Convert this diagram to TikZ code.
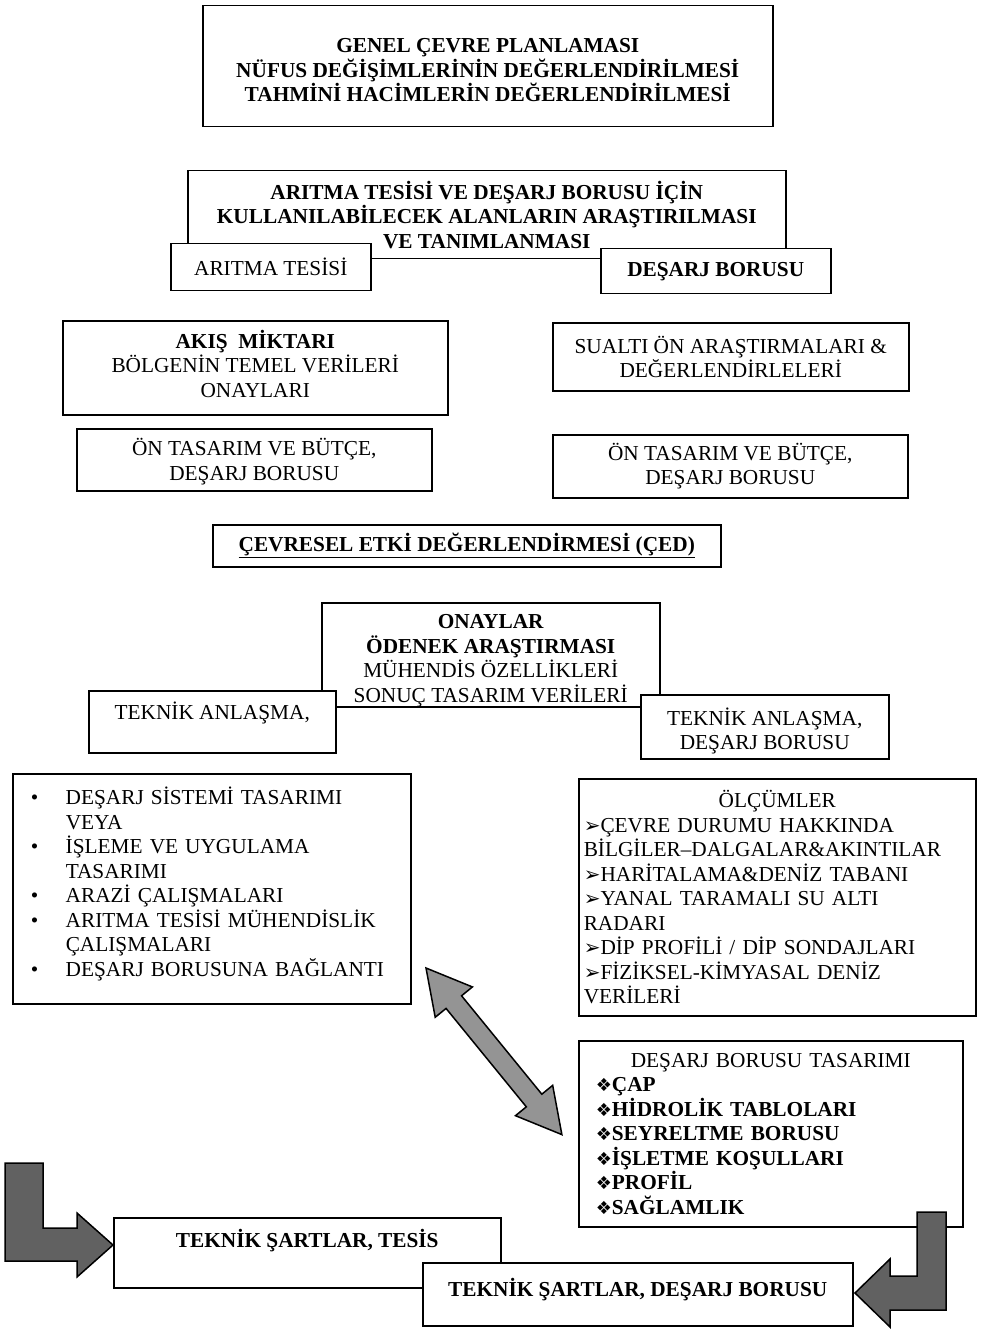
\documentclass[tikz,border=0pt]{standalone}
\usepackage{fontspec}
\setmainfont{Liberation Serif}
\newfontfamily\symf{DejaVu Sans}
\newcommand\fsz{\fontsize{21.3}{24.5}\selectfont}
\newcommand\arr{{\symf\fontsize{20}{20}\selectfont ➢}}
\newcommand\dia{{\symf\fontsize{18}{18}\selectfont ❖}}
\newcommand\bul{\makebox[35pt][l]{•}}
\begin{document}
\begin{tikzpicture}[x=1pt,y=-1pt,
  bx/.style={draw, line width=1.5pt, fill=white, inner sep=0pt, align=center, font=\fsz, anchor=north west},
  bbx/.style={bx, font=\fsz\bfseries},
  lab/.style={font=\fsz, align=center, inner sep=0pt},
  blab/.style={lab, font=\fsz\bfseries},
  blockarrow/.style={draw, line width=1.5pt, fill=black!62, line join=miter},
  dblarrow/.style={draw, line width=1.5pt, fill=black!42, line join=miter}]
\useasboundingbox (0,0) rectangle (994,1329);

\node[bx, minimum width=570, minimum height=121,
  label={[blab, yshift=-4pt]center:{GENEL ÇEVRE PLANLAMASI\\NÜFUS DEĞİŞİMLERİNİN DEĞERLENDİRİLMESİ\\TAHMİNİ HACİMLERİN DEĞERLENDİRİLMESİ}}] (plan) at (202,5) {};

\node[bbx, minimum width=598, minimum height=88] (alan) at (187,170)
  {ARITMA TESİSİ VE DEŞARJ BORUSU İÇİN\\KULLANILABİLECEK ALANLARIN ARAŞTIRILMASI\\VE TANIMLANMASI};
\node[bx, minimum width=200, minimum height=47] (tesis) at (170,243) {ARITMA TESİSİ};
\node[bbx, minimum width=230, minimum height=45] (boru) at (600,248) {DEŞARJ BORUSU};

\node[bx, minimum width=385, minimum height=94,
  label={[lab, yshift=4pt]center:{\textbf{AKIŞ~ MİKTARI}\\BÖLGENİN TEMEL VERİLERİ\\ONAYLARI}}] (akis) at (62,320) {};
\node[bx, minimum width=356, minimum height=68] (sualti) at (552,322)
  {SUALTI ÖN ARAŞTIRMALARI \&\\DEĞERLENDİRLELERİ};
\node[bx, minimum width=355, minimum height=62,
  label={[lab, yshift=-2pt]center:{ÖN TASARIM VE BÜTÇE,\\DEŞARJ BORUSU}}] (onl) at (76,428) {};
\node[bx, minimum width=355, minimum height=63] (onr) at (552,434)
  {ÖN TASARIM VE BÜTÇE,\\DEŞARJ BORUSU};

\node[bbx, minimum width=508, minimum height=42] (ced) at (212,524)
  {\underline{ÇEVRESEL ETKİ DEĞERLENDİRMESİ (ÇED)}};

\node[bx, minimum width=338, minimum height=104,
  label={[lab, yshift=-6pt]center:{\textbf{ONAYLAR}\\\textbf{ÖDENEK ARAŞTIRMASI}\\MÜHENDİS ÖZELLİKLERİ\\SONUÇ TASARIM VERİLERİ}}] (onay) at (321,602) {};
\node[bx, minimum width=247, text height=29, text depth=33] (tekl) at (88,690) {TEKNİK ANLAŞMA,};
\node[bx, minimum width=248, minimum height=64,
  label={[lab, yshift=-4pt]center:{TEKNİK ANLAŞMA,\\DEŞARJ BORUSU}}] (tekr) at (640,694) {};

\node[bx, minimum width=398, minimum height=230,
  label={[lab, yshift=5pt, text width=362, align=left]center:{\bul DEŞARJ SİSTEMİ TASARIMI\\
   \hspace*{35pt}VEYA\\
   \bul İŞLEME VE UYGULAMA\\
   \hspace*{35pt}TASARIMI\\
   \bul ARAZİ ÇALIŞMALARI\\
   \bul ARITMA TESİSİ MÜHENDİSLİK\\
   \hspace*{35pt}ÇALIŞMALARI\\
   \bul DEŞARJ BORUSUNA BAĞLANTI}}] (liste) at (12,773) {};

\node[bx, minimum height=237, text width=387, inner xsep=5, align=left] (olcum) at (578,778)
  {\makebox[387pt][c]{ÖLÇÜMLER}\\
   \arr ÇEVRE DURUMU HAKKINDA\\
   BİLGİLER–DALGALAR\&AKINTILAR\\
   \arr HARİTALAMA\&DENİZ TABANI\\
   \arr YANAL TARAMALI SU ALTI\\
   RADARI\\
   \arr DİP PROFİLİ / DİP SONDAJLARI\\
   \arr FİZİKSEL-KİMYASAL DENİZ\\
   VERİLERİ};

\node[bx, minimum height=186, text width=350, inner xsep=17, align=left] (tasarim) at (578,1040)
  {\makebox[350pt][c]{DEŞARJ BORUSU TASARIMI}\\
   \textbf{\dia ÇAP}\\
   \textbf{\dia HİDROLİK TABLOLARI}\\
   \textbf{\dia SEYRELTME BORUSU}\\
   \textbf{\dia İŞLETME KOŞULLARI}\\
   \textbf{\dia PROFİL}\\
   \textbf{\dia SAĞLAMLIK}};

\node[bbx, minimum width=387, text height=30, text depth=40] (sartt) at (113,1217) {TEKNİK ŞARTLAR, TESİS};
\node[bx, minimum width=430, minimum height=63,
  label={[blab, yshift=5pt]center:{TEKNİK ŞARTLAR, DEŞARJ BORUSU}}] (sartd) at (422,1262) {};

% double arrow between the lists
\begin{scope}[shift={(426,968)}, rotate=-50.8]
  \draw[dblarrow] (0,0) -- (44,24) -- (44,10) -- (171,10) -- (171,24) -- (215,0)
    -- (171,-24) -- (171,-10) -- (44,-10) -- (44,-24) -- cycle;
\end{scope}

% L-shaped block arrows
\draw[blockarrow] (5,1163) -- (43,1163) -- (43,1228) -- (77,1228) -- (77,1213) -- (113,1245)
  -- (77,1277) -- (77,1261) -- (5,1261) -- cycle;
\draw[blockarrow] (917,1212) -- (946,1212) -- (946,1310) -- (890,1310) -- (890,1327) -- (855,1293)
  -- (890,1259) -- (890,1276) -- (917,1276) -- cycle;
\end{tikzpicture}
\end{document}
